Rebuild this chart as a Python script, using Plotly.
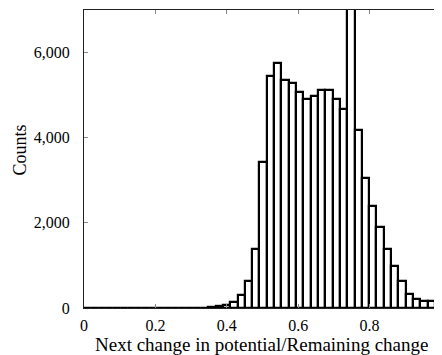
import plotly.graph_objects as go

# Histogram: 48 equal bins starting at 0
bin_start = 0.0
bin_width = 0.02048
counts = [0, 0, 0, 0, 0, 0, 0, 0, 0, 0,
          0, 0, 0, 0, 0, 3, 8, 18, 40, 75,
          150, 300, 640, 1397, 3440, 5450, 5750, 5355, 5290, 5070,
          4920, 4990, 5120, 5120, 4910, 4670, 9000, 4170, 3050, 2395,
          1906, 1397, 992, 632, 338, 208, 162, 162]

x_ticks = [0, 0.2, 0.4, 0.6, 0.8, 1]
x_tick_text = ["0", "0.2", "0.4", "0.6", "0.8", "1"]
y_ticks = [0, 2000, 4000, 6000]
y_tick_text = ["0", "2,000", "4,000", "6,000"]
x_title = "Next change in potential/Remaining change"
y_title = "Counts"

centers = [bin_start + bin_width * (i + 0.5) for i in range(len(counts))]

FONT = "Liberation Serif"

fig = go.Figure()
fig.add_trace(go.Bar(
    x=centers, y=counts, width=[bin_width] * len(counts),
    marker=dict(color="white", line=dict(color="black", width=2.2)),
    showlegend=False,
))

axis_common = dict(
    showline=True, linecolor="#222", linewidth=1, mirror="ticks",
    ticks="inside", ticklen=4, tickwidth=1, tickcolor="#888",
    showgrid=False, zeroline=False, automargin=False,
    ticklabeloverflow="allow",
    tickfont=dict(family=FONT, size=16, color="black"),
)

# page body has an 8px default margin, so the figure is sized to fit the window
fig.update_layout(
    width=434, height=347,
    margin=dict(l=76, r=1, t=2, b=47),
    paper_bgcolor="white", plot_bgcolor="white",
    bargap=0,
    xaxis=dict(range=[0, 1], tickvals=x_ticks, ticktext=x_tick_text,
               ticklabelstandoff=3, **axis_common),
    yaxis=dict(range=[0, 7000], tickvals=y_ticks, ticktext=y_tick_text,
               ticklabelstandoff=10, **axis_common),
    annotations=[
        dict(text=x_title, xref="paper", yref="paper", x=0.498, y=-0.121,
             xanchor="center", yanchor="middle", showarrow=False,
             font=dict(family=FONT, size=19, color="black")),
        dict(text=y_title, xref="paper", yref="paper", x=-0.179, y=0.529,
             xanchor="center", yanchor="middle", textangle=-90, showarrow=False,
             font=dict(family=FONT, size=18, color="black")),
    ],
)

fig.write_html("out.html")
